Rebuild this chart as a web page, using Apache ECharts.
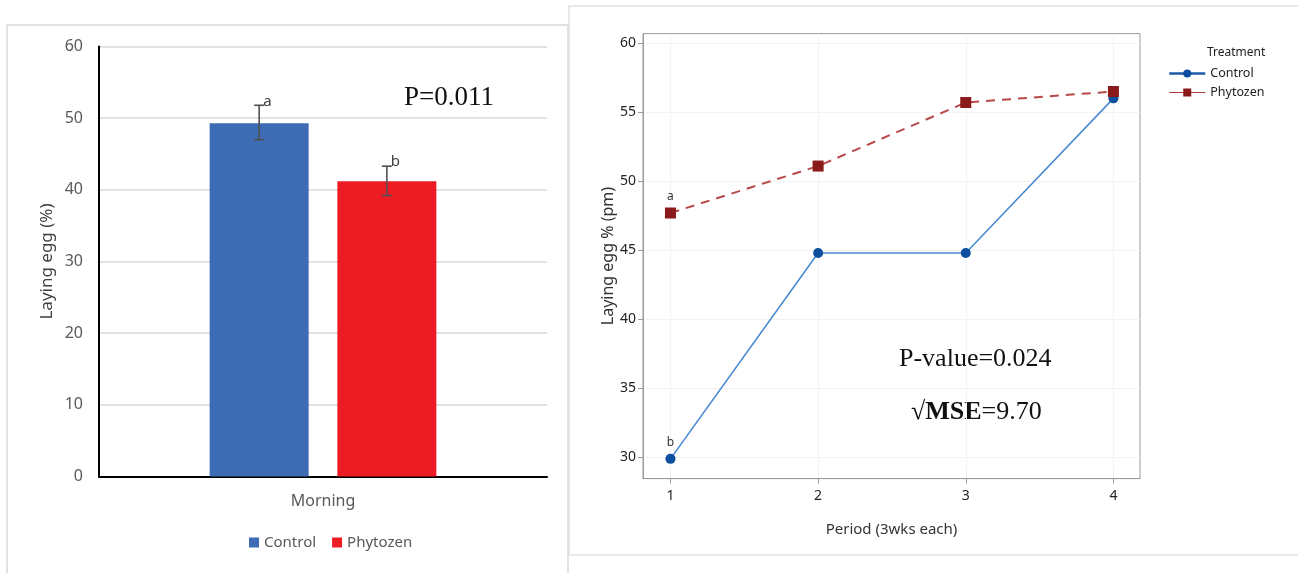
<!DOCTYPE html>
<html>
<head>
<meta charset="utf-8">
<title>Laying egg - morning vs period</title>
<script src="https://cdn.jsdelivr.net/npm/echarts@6/dist/echarts.min.js"></script>
<style>
  html, body { margin: 0; padding: 0; background: #fff; }
  #chart { width: 1298px; height: 573px; }
</style>
</head>
<body>
<div id="chart"></div>
<script>
/* -----------------------------
   Laying egg % : morning bars (left) + afternoon by period (right)
   ----------------------------- */

// Left panel: morning means with error bars
const morningCats = ["Morning"];
const controlAm = [49.3];
const phytozenAm = [41.2];
const controlAmErr = [[47.0, 51.8]];   // [low, high]
const phytozenAmErr = [[39.2, 43.3]];
const amLetters = ["a", "b"];          // control, phytozen

// Right panel: afternoon by period
const periods = [1, 2, 3, 4];
const controlPm = [29.9, 44.8, 44.8, 56.0];
const phytozenPm = [47.7, 51.1, 55.7, 56.5];
const pmLetters = { control: "b", phytozen: "a" };  // on period 1
const pmTicks = [30, 35, 40, 45, 50, 55, 60];

const BAR_W = 99;
const BAR_GAP = 0.29;

const chart = echarts.init(document.getElementById("chart"));

// error bar drawn next to a grouped bar; side = -1 (first bar) or +1 (second bar)
function errorBar(side, letter) {
  return (params, api) => {
    const shift = side * (BAR_W + BAR_W * BAR_GAP) / 2;
    const top = api.coord([api.value(0), api.value(2)]);
    const bot = api.coord([api.value(0), api.value(1)]);
    const x = top[0] + shift;
    const style = { stroke: "#505050", lineWidth: 1.6 };
    return {
      type: "group",
      children: [
        { type: "line", shape: { x1: x, y1: top[1], x2: x, y2: bot[1] }, style },
        { type: "line", shape: { x1: x - 5, y1: top[1], x2: x + 5, y2: top[1] }, style },
        { type: "line", shape: { x1: x - 5, y1: bot[1], x2: x + 5, y2: bot[1] }, style },
        {
          type: "text",
          style: {
            text: letter, x: x + 4, y: top[1] - 4,
            verticalAlign: "middle", fill: "#404040",
            fontSize: 15, fontFamily: "Noto Sans"
          }
        }
      ]
    };
  };
}

const pmLabel = (txt) => ({
  show: true, position: "top", distance: 5, formatter: txt,
  fontSize: 12, color: "#333", fontFamily: "Noto Sans"
});

chart.setOption({
  animation: false,
  textStyle: { fontFamily: "Noto Sans" },
  title: {
    text: "Treatment",
    left: 1202, top: 42,
    textStyle: { fontSize: 12, fontWeight: "normal", color: "#222" }
  },
  grid: [
    { left: 99, top: 46.5, width: 448, height: 430 },
    { left: 643, top: 33.6, width: 497, height: 445, show: true,
      borderColor: "#9a9a9a", borderWidth: 1, backgroundColor: "transparent" }
  ],
  legend: [
    {
      data: ["Control", "Phytozen"],
      left: 244, top: 530,
      icon: "rect", itemWidth: 10, itemHeight: 10, itemGap: 16,
      textStyle: { fontSize: 15, color: "#595959" }
    },
    {
      data: [
        { name: "Control-pm", lineStyle: { color: "#1f5aa6", width: 2.5 } },
        { name: "Phytozen-pm", lineStyle: { color: "#a83a3c", width: 1.2, type: "solid" } }
      ],
      orient: "vertical",
      left: 1163, top: 62,
      itemWidth: 36, itemHeight: 10, itemGap: 6,
      formatter: (name) => name.replace("-pm", ""),
      textStyle: { fontSize: 12.5, color: "#222" }
    }
  ],
  xAxis: [
    {
      gridIndex: 0,
      type: "category",
      data: morningCats,
      axisLine: { lineStyle: { color: "#000", width: 2 } },
      axisTick: { show: false },
      axisLabel: { fontSize: 16, color: "#595959", margin: 17 }
    },
    {
      gridIndex: 1,
      type: "value",
      min: 0.814, max: 4.18,
      name: "Period (3wks each)",
      nameLocation: "middle",
      nameGap: 44,
      nameTextStyle: { fontSize: 15, color: "#333" },
      axisLine: { lineStyle: { color: "#9a9a9a" } },
      axisTick: { customValues: periods, length: 5, lineStyle: { color: "#9a9a9a" } },
      axisLabel: { customValues: periods, fontSize: 14, color: "#222", margin: 10 },
      splitLine: { show: true, lineStyle: { color: "#f2f2f2" } }
    }
  ],
  yAxis: [
    {
      gridIndex: 0,
      type: "value",
      min: 0, max: 60, interval: 10,
      name: "Laying egg (%)",
      nameLocation: "middle",
      nameGap: 43,
      nameTextStyle: { fontSize: 17, color: "#404040" },
      axisLine: { show: true, lineStyle: { color: "#000", width: 2 } },
      axisTick: { show: false },
      axisLabel: { fontSize: 16, color: "#595959", margin: 16 },
      splitLine: { lineStyle: { color: "#d9d9d9", width: 1.5 } }
    },
    {
      gridIndex: 1,
      type: "value",
      min: 28.47, max: 60.69,
      name: "Laying egg % (pm)",
      nameLocation: "middle",
      nameGap: 27,
      nameTextStyle: { fontSize: 16, color: "#333" },
      axisLine: { show: true, lineStyle: { color: "#9a9a9a" } },
      axisTick: { show: true, customValues: pmTicks, length: 5, lineStyle: { color: "#9a9a9a" } },
      axisLabel: { customValues: pmTicks, fontSize: 14, color: "#222", margin: 7 },
      splitLine: { show: true, lineStyle: { color: "#f2f2f2" } }
    }
  ],
  series: [
    {
      name: "Control", type: "bar", xAxisIndex: 0, yAxisIndex: 0,
      data: controlAm, barWidth: BAR_W, barGap: BAR_GAP * 100 + "%",
      itemStyle: { color: "#3d6cb5" }
    },
    {
      name: "Phytozen", type: "bar", xAxisIndex: 0, yAxisIndex: 0,
      data: phytozenAm, barWidth: BAR_W,
      itemStyle: { color: "#ed1c24" }
    },
    {
      type: "custom", xAxisIndex: 0, yAxisIndex: 0, z: 5,
      renderItem: errorBar(-1, amLetters[0]),
      data: controlAmErr.map((e, i) => [i, e[0], e[1]])
    },
    {
      type: "custom", xAxisIndex: 0, yAxisIndex: 0, z: 5,
      renderItem: errorBar(1, amLetters[1]),
      data: phytozenAmErr.map((e, i) => [i, e[0], e[1]])
    },
    {
      name: "Control-pm", type: "line", xAxisIndex: 1, yAxisIndex: 1,
      symbol: "circle", symbolSize: 10,
      itemStyle: { color: "#0b4f9e" },
      lineStyle: { color: "#4a8ad0", width: 1.6 },
      data: periods.map((p, i) => i === 0
        ? { value: [p, controlPm[i]], label: pmLabel(pmLetters.control) }
        : [p, controlPm[i]])
    },
    {
      name: "Phytozen-pm", type: "line", xAxisIndex: 1, yAxisIndex: 1,
      symbol: "rect", symbolSize: 11,
      itemStyle: { color: "#8b1a1a" },
      lineStyle: { color: "#b8494b", width: 2, type: [9, 7] },
      data: periods.map((p, i) => i === 0
        ? { value: [p, phytozenPm[i]], label: pmLabel(pmLetters.phytozen) }
        : [p, phytozenPm[i]])
    }
  ],
  graphic: [
    { type: "rect", shape: { x: 7, y: 25, width: 561, height: 560 },
      style: { fill: "none", stroke: "#d9d9d9", lineWidth: 1.5 }, silent: true },
    { type: "rect", shape: { x: 569, y: 6, width: 740, height: 549 },
      style: { fill: "none", stroke: "#e2e2e2", lineWidth: 1.5 }, silent: true },
    { type: "text", left: 404, top: 84,
      style: { text: "P=0.011", fontSize: 27, fontFamily: "Liberation Serif", fill: "#111" } },
    { type: "text", left: 899, top: 346,
      style: { text: "P-value=0.024", fontSize: 26, fontFamily: "Liberation Serif", fill: "#111" } },
    { type: "text", left: 911, top: 399,
      style: {
        text: "{r|√}{b|MSE}{r|=9.70}",
        rich: {
          r: { fontSize: 26, fontFamily: "Liberation Serif", fill: "#111" },
          b: { fontSize: 26, fontFamily: "Liberation Serif", fontWeight: "bold", fill: "#111" }
        }
      } }
  ]
});
</script>
</body>
</html>
